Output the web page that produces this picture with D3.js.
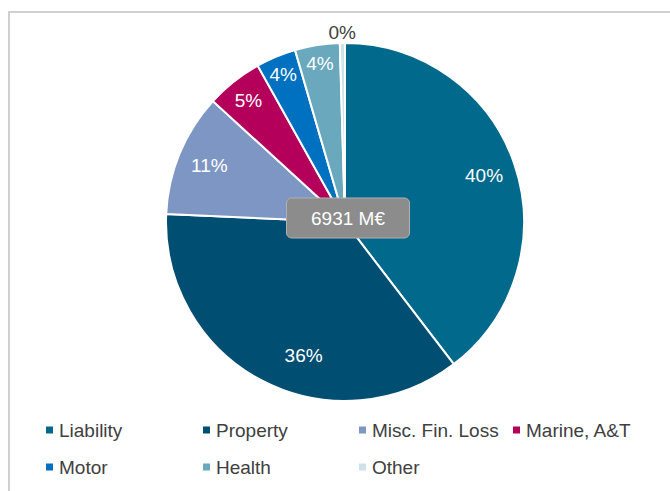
<!DOCTYPE html>
<html><head><meta charset="utf-8">
<script src="https://cdn.jsdelivr.net/npm/d3@7"></script>
<style>html,body{margin:0;padding:0;background:#fff;}svg{display:block;}</style>
</head><body>
<svg id="c" width="670" height="491"></svg>
<script>
const categories = ["Liability","Property","Misc. Fin. Loss","Marine, A&T","Motor","Health","Other"];
const values = [2745, 2502, 769, 353, 250, 280, 32];
const colors = ["#00698c","#004e71","#7e96c3","#b4005a","#0070c0","#69a8bd","#cfe2ea"];
const totalLabel = "6931 M€";

const svg = d3.select("#c");
const font = "'Liberation Sans', Arial, sans-serif";

// frame
svg.append("rect").attr("x",9).attr("y",12).attr("width",700).attr("height",520)
  .attr("fill","none").attr("stroke","#d0d0d0").attr("stroke-width",2);

const cx = 345, cy = 222, r = 179;
const total = d3.sum(values);
const pie = d3.pie().sort(null).value(d=>d)(values);
const arc = d3.arc().innerRadius(0).outerRadius(r);
const g = svg.append("g").attr("transform",`translate(${cx},${cy})`);
g.selectAll("path").data(pie).join("path")
  .attr("d",arc).attr("fill",(d,i)=>colors[i])
  .attr("stroke","#fff").attr("stroke-width",2);

// labels
const labelNudge = {1: -0.18};
const labelR = [0.82,0.78,0.82,0.87,0.895,0.9,1.06];
pie.forEach((d,i)=>{
  const a = (d.startAngle+d.endAngle)/2 + (labelNudge[i]||0);
  const rr = r*labelR[i];
  const x = Math.sin(a)*rr, y = -Math.cos(a)*rr;
  g.append("text").attr("x",x).attr("y",y).attr("dy","0.35em")
    .attr("text-anchor","middle").attr("font-family",font).attr("font-size",19)
    .attr("fill", i===6 ? "#404040" : "#fff")
    .text(d3.format(".0%")(d.data/total));
});

// center box
const bw = 123, bh = 40;
svg.append("rect").attr("x",348-bw/2).attr("y",218-bh/2).attr("width",bw).attr("height",bh)
  .attr("rx",5).attr("fill","#8c8c8c").attr("stroke","#b0b0b0").attr("stroke-width",1);
svg.append("text").attr("x",348).attr("y",218).attr("dy","0.35em").attr("text-anchor","middle")
  .attr("font-family",font).attr("font-size",19).attr("fill","#fff").text(totalLabel);

// legend
const colX = [46,203,359,513], rowY = [430,467];
categories.forEach((c,i)=>{
  const col = i<4 ? i : i-4, row = i<4 ? 0 : 1;
  const x = colX[col], y = rowY[row];
  svg.append("rect").attr("x",x).attr("y",y-3.5).attr("width",7).attr("height",7).attr("fill",colors[i]);
  svg.append("text").attr("x",x+13).attr("y",y).attr("dy","0.35em")
    .attr("font-family",font).attr("font-size",19).attr("fill","#404040").text(c);
});
</script>
</body></html>
